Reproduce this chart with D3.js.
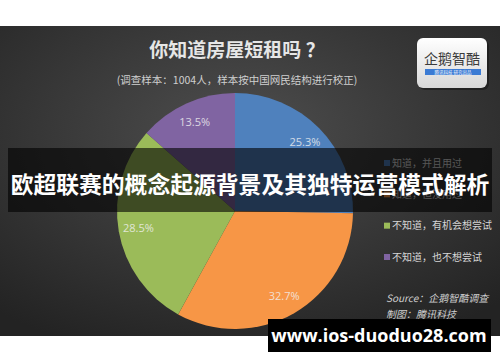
<!DOCTYPE html>
<html>
<head>
<meta charset="utf-8">
<script src="https://cdn.jsdelivr.net/npm/d3@7"></script>
<style>
  body { margin: 0; background: #fff; }
  svg { display: block; }
</style>
</head>
<body>
<div id="canvas"></div>
<script>
"use strict"

/* Data */
let categories = ["知道，并且用过", "知道，但没用过", "不知道，有机会想尝试", "不知道，也不想尝试"];
let values = [25.3, 32.7, 28.5, 13.5];
let colors = ["#4f81bd", "#f79646", "#9bbb59", "#8064a2"];

let titleText = "你知道房屋短租吗 ？";
let subtitleText = "(调查样本：1004人，样本按中国网民结构进行校正)";
let bannerText = "欧超联赛的概念起源背景及其独特运营模式解析";
let siteText = "www.ios-duoduo28.com";

let svgWidth = 500;
let svgHeight = 362;
let cjk = "'Noto Sans CJK SC', 'Noto Sans', sans-serif";

let svg = d3.select("#canvas")
    .append("svg")
    .attr("width", svgWidth)
    .attr("height", svgHeight);

let defs = svg.append("defs");
let bg = defs.append("radialGradient")
    .attr("id", "bg")
    .attr("cx", "0.48").attr("cy", "0.35").attr("r", "0.75");
bg.append("stop").attr("offset", "0%").attr("stop-color", "#4e4e4e");
bg.append("stop").attr("offset", "100%").attr("stop-color", "#232323");

let logoGrad = defs.append("linearGradient")
    .attr("id", "logoGrad")
    .attr("x1", 0).attr("y1", 0).attr("x2", 0).attr("y2", 1);
logoGrad.append("stop").attr("offset", "0%").attr("stop-color", "#ffffff");
logoGrad.append("stop").attr("offset", "100%").attr("stop-color", "#d8d8d8");

/* dark chart area */
svg.append("rect")
    .attr("x", 0).attr("y", 26)
    .attr("width", svgWidth).attr("height", 310)
    .attr("fill", "url(#bg)");

/* title */
svg.append("text")
    .attr("x", 237).attr("y", 57)
    .attr("text-anchor", "middle")
    .attr("font-family", cjk)
    .attr("font-weight", "bold")
    .attr("font-size", 19)
    .attr("fill", "#e6e6e6")
    .text(titleText);

svg.append("text")
    .attr("x", 237).attr("y", 84)
    .attr("text-anchor", "middle")
    .attr("font-family", cjk)
    .attr("font-size", 10.5)
    .attr("fill", "#cfcfcf")
    .text(subtitleText);

/* logo */
let logo = svg.append("g");
logo.append("rect")
    .attr("x", 419).attr("y", 40).attr("width", 70).attr("height", 50)
    .attr("rx", 6).attr("fill", "#111").attr("opacity", 0.5);
logo.append("rect")
    .attr("x", 417).attr("y", 38).attr("width", 70).attr("height", 50)
    .attr("rx", 6).attr("fill", "url(#logoGrad)");
logo.append("text")
    .attr("x", 452).attr("y", 64)
    .attr("text-anchor", "middle")
    .attr("font-family", cjk)
    .attr("font-size", 14)
    .attr("fill", "#3a3a3a")
    .text("企鹅智酷");
logo.append("rect")
    .attr("x", 425).attr("y", 69).attr("width", 56).attr("height", 6)
    .attr("fill", "#3b7bd4");
logo.append("text")
    .attr("x", 453).attr("y", 73.8)
    .attr("text-anchor", "middle")
    .attr("font-family", cjk)
    .attr("font-size", 4.5)
    .attr("fill", "#fff")
    .text("腾讯科技  研究出品");

/* pie */
let cx = 235, cy = 211, radius = 118;
let pie = d3.pie().sort(null).value(d => d);
let arcs = pie(values);
let arc = d3.arc().innerRadius(0).outerRadius(radius);
let labelArc = d3.arc().innerRadius(98).outerRadius(98);

let pieG = svg.append("g").attr("transform", `translate(${cx},${cy})`);
pieG.selectAll("path")
    .data(arcs)
    .join("path")
    .attr("d", arc)
    .attr("fill", (d, i) => colors[i]);

pieG.selectAll("text")
    .data(arcs)
    .join("text")
    .attr("transform", d => `translate(${labelArc.centroid(d)})`)
    .attr("text-anchor", "middle")
    .attr("dy", "0.35em")
    .attr("font-family", "'Open Sans', sans-serif")
    .attr("font-size", 11)
    .attr("fill", "#f2f2f2")
    .attr("opacity", 0.8)
    .text(d => d.data.toFixed(1) + "%");

/* legend */
let legend = svg.append("g");
let legendY = d3.scalePoint().domain(categories).range([163, 257]);
legend.selectAll("rect")
    .data(categories)
    .join("rect")
    .attr("x", 384).attr("y", d => legendY(d) - 3)
    .attr("width", 6).attr("height", 6)
    .attr("fill", (d, i) => colors[i]);
legend.selectAll("text")
    .data(categories)
    .join("text")
    .attr("x", 392).attr("y", d => legendY(d))
    .attr("dy", "0.35em")
    .attr("font-family", cjk)
    .attr("font-size", 10)
    .attr("fill", "#d6d6d6")
    .text(d => d);

/* source */
svg.append("text")
    .attr("x", 386).attr("y", 302)
    .attr("font-family", cjk)
    .attr("font-size", 10)
    .attr("font-style", "italic")
    .attr("fill", "#cfcfcf")
    .text("Source：企鹅智酷调查");
svg.append("text")
    .attr("x", 386).attr("y", 318)
    .attr("font-family", cjk)
    .attr("font-size", 10)
    .attr("font-style", "italic")
    .attr("fill", "#cfcfcf")
    .text("制图：腾讯科技");

/* overlay banner */
svg.append("rect")
    .attr("x", 8).attr("y", 148)
    .attr("width", 484).attr("height", 64)
    .attr("fill", "#000").attr("opacity", 0.6);
svg.append("text")
    .attr("x", 250).attr("y", 193)
    .attr("text-anchor", "middle")
    .attr("font-family", cjk)
    .attr("font-weight", "bold")
    .attr("font-size", 22.8)
    .attr("fill", "#ffffff")
    .text(bannerText);

/* site box */
svg.append("rect")
    .attr("x", 268).attr("y", 319)
    .attr("width", 223).attr("height", 33)
    .attr("fill", "#000");
svg.append("text")
    .attr("x", 379).attr("y", 342)
    .attr("text-anchor", "middle")
    .attr("font-family", "'Open Sans', sans-serif")
    .attr("font-weight", "bold")
    .attr("font-size", 18)
    .attr("fill", "#fff")
    .text(siteText);
</script>
</body>
</html>
